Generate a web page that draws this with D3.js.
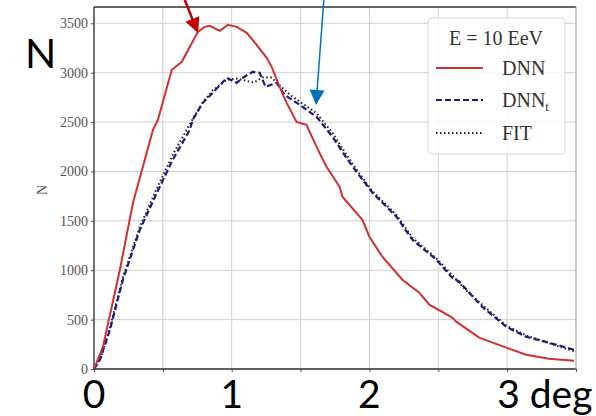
<!DOCTYPE html>
<html lang="en">
  <head>
    <script src="https://d3js.org/d3.v7.min.js"></script>
    <style>
      body { margin: 0; background: #fff; }
    </style>
  </head>
  <body>
    <script>
      // values (x in deg, y = N)
      var dnnX = [0, 0.065, 0.188, 0.283, 0.355, 0.428, 0.464, 0.565, 0.638, 0.696, 0.754, 0.804, 0.841, 0.913, 0.971, 1.036, 1.109, 1.181, 1.254, 1.29, 1.348, 1.399, 1.471, 1.543, 1.616, 1.688, 1.783, 1.804, 1.949, 2.0, 2.094, 2.239, 2.362, 2.435, 2.601, 2.63, 2.797, 2.993, 3.138, 3.304, 3.486];
      var dnnY = [0, 226, 1005, 1683, 2047, 2421, 2523, 3029, 3110, 3262, 3413, 3464, 3474, 3423, 3484, 3464, 3403, 3282, 3150, 3059, 2857, 2694, 2502, 2472, 2249, 2047, 1845, 1744, 1511, 1339, 1137, 904, 773, 651, 520, 479, 317, 216, 145, 104, 84];

      var dnntX = [0, 0.043, 0.116, 0.21, 0.333, 0.457, 0.572, 0.696, 0.717, 0.79, 0.862, 0.964, 1.036, 1.08, 1.152, 1.203, 1.246, 1.326, 1.384, 1.493, 1.616, 1.732, 1.833, 1.906, 2.022, 2.196, 2.312, 2.486, 2.601, 2.652, 2.819, 2.993, 3.138, 3.304, 3.486];
      var dnntY = [0, 94, 398, 904, 1410, 1785, 2119, 2422, 2523, 2695, 2796, 2948, 2897, 2948, 3009, 2999, 2857, 2897, 2776, 2675, 2553, 2351, 2138, 1997, 1785, 1542, 1309, 1107, 924, 884, 630, 428, 327, 266, 195];

      var fitX = [0, 0.05, 0.116, 0.21, 0.333, 0.457, 0.572, 0.696, 0.79, 0.862, 0.964, 1.036, 1.1, 1.16, 1.22, 1.29, 1.35, 1.42, 1.5, 1.616, 1.732, 1.833, 1.906, 2.022, 2.196, 2.312, 2.486, 2.601, 2.7, 2.819, 2.993, 3.138, 3.304, 3.486];
      var fitY = [0, 120, 420, 930, 1440, 1830, 2170, 2480, 2700, 2820, 2930, 2940, 2920, 2900, 2950, 2950, 2870, 2780, 2700, 2590, 2390, 2170, 2020, 1800, 1560, 1330, 1120, 950, 800, 650, 440, 340, 260, 180];

      var yTicks = [0, 500, 1000, 1500, 2000, 2500, 3000, 3500];
      var xGrid = [0, 0.5, 1, 1.5, 2, 2.5, 3, 3.5];
      var bigXLabels = [
        { v: 0, t: "0" },
        { v: 1, t: "1" },
        { v: 2, t: "2" },
        { v: 3, t: "3 deg" }
      ];
      var legendItems = [
        { name: "DNN", sub: "" },
        { name: "DNN", sub: "t" },
        { name: "FIT", sub: "" }
      ];

      var width = 596,
        height = 416;
      var pLeft = 94,
        pRight = 576,
        pTop = 7,
        pBottom = 369;

      var x = d3.scaleLinear().domain([0, 3.5]).range([pLeft, pRight]);
      var y = d3.scaleLinear().domain([0, 3665]).range([pBottom, pTop]);

      var svg = d3
        .select("body")
        .append("svg")
        .attr("width", width)
        .attr("height", height)
        .style("background", "#fff");

      // grid
      svg
        .append("g")
        .selectAll("line")
        .data(xGrid)
        .join("line")
        .attr("x1", (d) => x(d))
        .attr("x2", (d) => x(d))
        .attr("y1", pTop)
        .attr("y2", pBottom)
        .attr("stroke", "#cfcfcf")
        .attr("stroke-width", 1);
      svg
        .append("g")
        .selectAll("line")
        .data(yTicks)
        .join("line")
        .attr("x1", pLeft)
        .attr("x2", pRight)
        .attr("y1", (d) => y(d))
        .attr("y2", (d) => y(d))
        .attr("stroke", "#cfcfcf")
        .attr("stroke-width", 1);

      // axes
      var yAxis = d3
        .axisLeft(y)
        .tickValues(yTicks)
        .tickFormat(d3.format("d"))
        .tickSize(3)
        .tickPadding(3);
      svg
        .append("g")
        .attr("transform", "translate(" + pLeft + ",0)")
        .call(yAxis)
        .call((g) => g.select(".domain").remove())
        .call((g) => g.selectAll("line").attr("stroke", "#555"))
        .call((g) =>
          g
            .selectAll("text")
            .attr("fill", "#555")
            .style("font-family", "Liberation Serif, serif")
            .style("font-size", "14px")
        );

      var xAxis = d3.axisBottom(x).tickValues(xGrid).tickSize(3).tickFormat("");
      svg
        .append("g")
        .attr("transform", "translate(0," + pBottom + ")")
        .call(xAxis)
        .call((g) => g.select(".domain").remove())
        .call((g) => g.selectAll("line").attr("stroke", "#555"));

      // frame
      svg.append("line").attr("x1", pLeft).attr("x2", pRight).attr("y1", pTop).attr("y2", pTop).attr("stroke", "#333").attr("stroke-width", 1.3);
      svg.append("line").attr("x1", pLeft).attr("x2", pRight).attr("y1", pBottom).attr("y2", pBottom).attr("stroke", "#333").attr("stroke-width", 1.3);
      svg.append("line").attr("x1", pLeft).attr("x2", pLeft).attr("y1", pTop).attr("y2", pBottom).attr("stroke", "#333").attr("stroke-width", 1.3);
      svg.append("line").attr("x1", pRight).attr("x2", pRight).attr("y1", pTop).attr("y2", pBottom).attr("stroke", "#aaa").attr("stroke-width", 1);

      // small rotated y label
      svg
        .append("text")
        .attr("transform", "translate(47,190) rotate(-90)")
        .attr("text-anchor", "middle")
        .attr("fill", "#555")
        .style("font-family", "Liberation Serif, serif")
        .style("font-size", "14px")
        .text("N");

      // curves
      var line = d3
        .line()
        .x((d) => x(d[0]))
        .y((d) => y(d[1]));

      var series = [
        { xs: fitX, ys: fitY, color: "#222", w: 2, dash: "1.5,2.5" },
        { xs: dnntX, ys: dnntY, color: "#1a1a80", w: 2.2, dash: "6,3" },
        { xs: dnnX, ys: dnnY, color: "#d03030", w: 2, dash: null }
      ];
      series.forEach(function (s) {
        svg
          .append("path")
          .datum(d3.zip(s.xs, s.ys))
          .attr("d", line)
          .attr("fill", "none")
          .attr("stroke", s.color)
          .attr("stroke-width", s.w)
          .attr("stroke-dasharray", s.dash);
      });

      // legend
      var lg = svg.append("g");
      lg.append("rect")
        .attr("x", 428)
        .attr("y", 18)
        .attr("width", 137)
        .attr("height", 136)
        .attr("rx", 4)
        .attr("fill", "#fff")
        .attr("fill-opacity", 0.85)
        .attr("stroke", "#d6d6d6");
      lg.append("text")
        .attr("x", 496)
        .attr("y", 45)
        .attr("text-anchor", "middle")
        .attr("fill", "#333")
        .style("font-family", "Liberation Serif, serif")
        .style("font-size", "20px")
        .text("E = 10 EeV");

      var rowY = [68, 100, 133];
      var legendSeries = [series[2], series[1], series[0]];
      legendItems.forEach(function (it, i) {
        var s = legendSeries[i];
        lg.append("line")
          .attr("x1", 436)
          .attr("x2", 483)
          .attr("y1", rowY[i])
          .attr("y2", rowY[i])
          .attr("stroke", s.color)
          .attr("stroke-width", s.w)
          .attr("stroke-dasharray", s.dash);
        var t = lg
          .append("text")
          .attr("x", 502)
          .attr("y", rowY[i] + 7)
          .attr("fill", "#333")
          .style("font-family", "Liberation Serif, serif")
          .style("font-size", "20px")
          .text(it.name);
        if (it.sub) {
          t.append("tspan").attr("dy", 4).style("font-size", "13px").text(it.sub);
        }
      });

      // slide overlays: big labels
      svg
        .append("text")
        .attr("x", 25)
        .attr("y", 68)
        .attr("fill", "#000")
        .style("font-family", "Lato, sans-serif")
        .style("font-size", "41px")
        .text("N");

      svg
        .append("g")
        .selectAll("text")
        .data(bigXLabels)
        .join("text")
        .attr("x", (d) => (d.v === 3 ? x(d.v) - 10 : x(d.v)))
        .attr("y", 408)
        .attr("text-anchor", (d) => (d.v === 3 ? "start" : "middle"))
        .attr("fill", "#000")
        .style("font-family", "Lato, sans-serif")
        .style("font-size", "39px")
        .text((d) => d.t);

      // arrows
      function arrow(x1, y1, x2, y2, color, w, head) {
        var len = Math.hypot(x2 - x1, y2 - y1);
        svg
          .append("line")
          .attr("x1", x1)
          .attr("y1", y1)
          .attr("x2", x2 - ((x2 - x1) / len) * head * 0.8)
          .attr("y2", y2 - ((y2 - y1) / len) * head * 0.8)
          .attr("stroke", color)
          .attr("stroke-width", w);
        var a = Math.atan2(y2 - y1, x2 - x1);
        var p = [
          [x2, y2],
          [x2 - head * Math.cos(a) + (head / 2) * Math.sin(a), y2 - head * Math.sin(a) - (head / 2) * Math.cos(a)],
          [x2 - head * Math.cos(a) - (head / 2) * Math.sin(a), y2 - head * Math.sin(a) + (head / 2) * Math.cos(a)]
        ];
        svg.append("path").attr("d", "M" + p.join("L") + "Z").attr("fill", color);
      }
      arrow(184, -2, 198, 33, "#c00000", 2.5, 15);
      arrow(324, -2, 316, 105, "#0070c0", 1.5, 15);
    </script>
  </body>
</html>
